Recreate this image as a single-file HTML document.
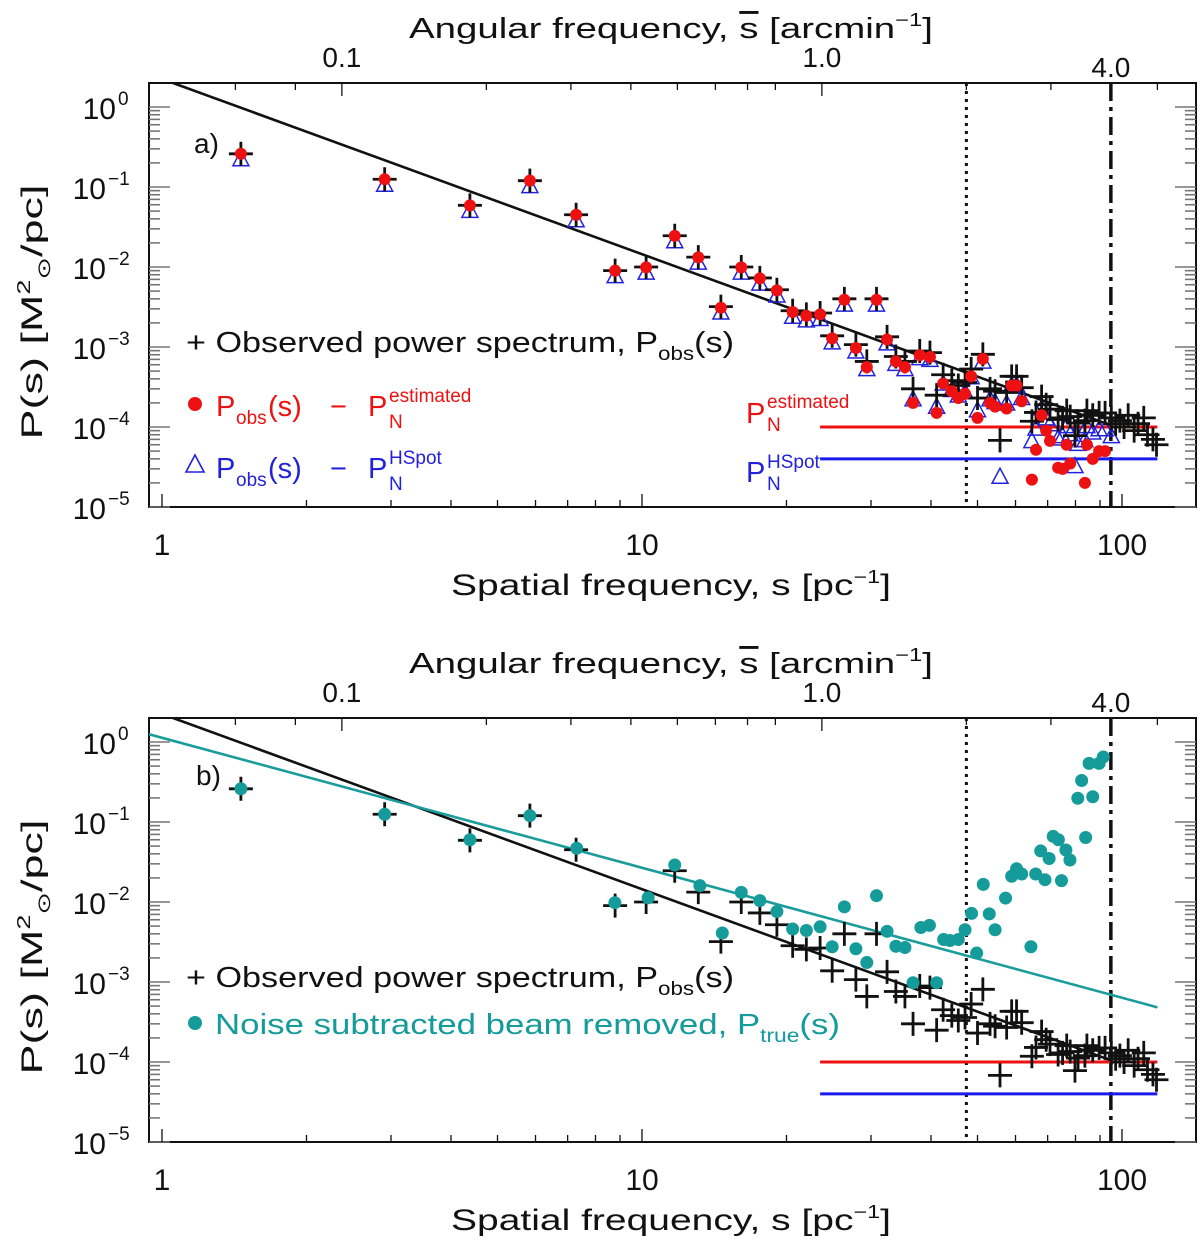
<!DOCTYPE html>
<html><head><meta charset="utf-8"><title>Power spectrum</title>
<style>
html,body{margin:0;padding:0;background:#fff;}
svg{display:block;font-family:"Liberation Sans",sans-serif;}
</style></head>
<body>
<svg id="chart" width="1200" height="1243" viewBox="0 0 1200 1243" xmlns="http://www.w3.org/2000/svg"></svg>
<script>
// ---------- data ----------
const obsS = [1.46,2.91,4.38,5.84,7.29,8.79,10.2,11.7,13.1,14.6,16.1,17.6,19.1,20.6,22.0,23.5,24.9,26.4,27.9,29.4,30.8,32.4,33.8,35.3,36.7,37.9,39.8,41.1,42.4,44.2,45.6,47.1,48.5,50.0,51.3,53.1,54.4,55.7,57.5,58.9,60.3,61.8,64.9,66.2,68.0,69.5,70.8,73.6,75.2,76.7,78.0,79.8,81.0,83.7,84.5,86.9,89.6,92.2,95,97,99,101,103,106,108,111,113,116,118];
const obsP = [0.26,0.125,0.059,0.12,0.045,0.009,0.01,0.0246,0.0133,0.0032,0.010,0.0073,0.0052,0.00284,0.00256,0.00266,0.00138,0.0040,0.00107,0.00066,0.0040,0.00134,0.00076,0.00066,0.00030,0.00089,0.00085,0.00025,0.00045,0.00038,0.00033,0.00036,0.00053,0.00023,0.00081,0.00030,0.00028,0.000068,0.00027,0.00043,0.00043,0.00031,0.000118,0.000152,0.00024,0.00019,0.000167,0.000124,0.00013,0.00016,0.000135,0.000078,0.000112,0.00012,0.00016,0.00014,0.00015,0.00015,0.00013,0.00011,0.00012,0.00010,0.00014,0.00009,0.00011,0.00013,0.00008,0.00007,0.00006];
const estP = [0.26,0.125,0.059,0.12,0.045,0.009,0.0099,0.0245,0.0132,0.0031,0.0099,0.0072,0.0051,0.00274,0.00246,0.00256,0.00128,0.0039,0.00097,0.00056,0.0039,0.00124,0.00066,0.00056,0.0002,0.00079,0.00075,0.00015,0.00035,0.00028,0.00023,0.00026,0.00043,0.00013,0.00071,0.0002,0.00018,null,0.00017,0.00033,0.00033,0.00021,0.000022,0.000052,0.00014,0.00009,0.000067,0.000031,0.00003,0.00006,0.000035,null,null,0.00002,0.00006,0.00004,0.00005,0.00005,null,null,null,null,null,null,null,null,null,null,null];
const hsP = [0.26,0.125,0.059,0.12,0.045,0.009,0.00996,0.0246,0.0133,0.00316,0.00996,0.00726,0.00516,0.0028,0.00252,0.00262,0.00134,0.00396,0.00103,0.00062,0.00396,0.0013,0.00072,0.00062,0.00026,0.00085,0.00081,0.00021,0.00041,0.00034,0.00029,0.00032,0.00049,0.00019,0.00077,0.00026,0.00024,0.000028,0.00023,0.00039,0.00039,0.00027,0.000078,0.000112,0.0002,0.00015,0.000127,0.000084,0.00009,0.00012,0.000095,0.000038,0.000072,0.00008,0.00012,0.0001,0.00011,0.00011,0.00009,null,null,null,null,null,null,null,null,null,null];
const trueS = [1.46,2.91,4.38,5.84,7.31,8.78,10.3,11.7,13.2,14.7,16.1,17.6,19.1,20.6,22.0,23.5,24.9,26.4,27.9,29.4,30.8,32.4,33.8,35.3,36.7,38.1,39.7,41.1,42.5,43.8,45.6,47.1,48.6,49.8,51.4,52.9,54.4,57.2,58.9,60.3,61.8,64.6,66.1,67.7,69.1,70.5,71.9,73.7,74.8,76.4,77.9,80.9,82.4,84,85.4,86.9,89.6,91.4];
const trueP = [0.26,0.125,0.06,0.12,0.047,0.0098,0.0113,0.029,0.016,0.0041,0.0132,0.0104,0.0076,0.0046,0.0044,0.0049,0.00276,0.0087,0.0026,0.00175,0.012,0.0043,0.0028,0.0027,0.00098,0.0048,0.0051,0.00098,0.0034,0.0033,0.0034,0.0045,0.0072,0.0023,0.0166,0.0071,0.0045,0.0112,0.021,0.026,0.0224,0.00276,0.0224,0.0435,0.019,0.035,0.066,0.060,0.0185,0.0447,0.0335,0.198,0.33,0.064,0.54,0.207,0.54,0.65];
const noiseEst = 1e-4;
const noiseHSpot = 4e-5;
const fitObs = [2.24, -2.19];    // amplitude at s=1, slope
const fitTrue = [1.13, -1.625];
const noiseRange = [23.5, 118.5];
const resolLines = [47.4, 94.8];   // dotted, dash-dot
const xTickVals = [1,10,100];
const yTickExp = [0,-1,-2,-3,-4,-5];
const topTickLabels = ["0.1","1.0","4.0"];
const topTickVals = [0.1,1.0,4.0];
const topMinor = [0.06,0.08,0.2,0.3,0.4,0.5,0.6,0.7,0.8,2,3,5];
const arcConv = 23.7;

// ---------- geometry ----------
const NS="http://www.w3.org/2000/svg";
const svg=document.getElementById('chart');
const L=149,R=1196;
function X(s){return 162+480*Math.log10(s);}
function mk(tag,attrs,parent){const e=document.createElementNS(NS,tag);for(const k in attrs)e.setAttribute(k,attrs[k]);(parent||svg).appendChild(e);return e;}

function panel(off,tag){
  const T=83+off,B=507+off,Y0=107+off;
  const Y=p=>Y0-80*Math.log10(p);
  const g=mk('g',{});
  
  
  const clipId='clip'+tag;
  const cp=mk('clipPath',{id:clipId},g);mk('rect',{x:L,y:T,width:R-L,height:B-T},cp);
  const fr=mk('rect',{x:L,y:T,width:R-L,height:B-T,fill:'none',stroke:'#111','stroke-width':2},g);
  
  
  for(let e=0;e>=-5;e--){
    for(let m=1;m<10;m++){
      const y=Y(m*Math.pow(10,e)); if(y<T||y>B)continue;
      const len=m===1?21:11;
      mk('line',{x1:L,x2:L+len,y1:y,y2:y,stroke:'#777','stroke-width':1.6},g);
      mk('line',{x1:R-len,x2:R,y1:y,y2:y,stroke:'#777','stroke-width':1.6},g);
    }
  }
  yTickExp.forEach(e=>{
    const y=Y(Math.pow(10,e));
    const t=mk('text',{x:e===0?116:106,y:y+12,'font-size':30,'text-anchor':'end',fill:'#111'},g);
    t.textContent='10';
    
    
    const sup=mk('text',{x:e===0?118:108,y:y-2,'font-size':19,fill:'#111'},g);
    sup.textContent=e===0?'0':'−'+(-e);
  });
  for(let d=0;d<3;d++)for(let m=1;m<10;m++){
    const s=m*Math.pow(10,d);const x=X(s);if(x<L||x>R)continue;
    mk('line',{x1:x,x2:x,y1:B,y2:B-(m===1?13:7),stroke:'#111','stroke-width':1.3},g);
  }
  xTickVals.forEach(v=>{
    const t=mk('text',{x:X(v),y:B+48,'font-size':30,'text-anchor':'middle',fill:'#111'},g);
    t.textContent=String(v);
    
    
  });
  topMinor.forEach(v=>{const x=X(v*arcConv);mk('line',{x1:x,x2:x,y1:T,y2:T+7,stroke:'#111','stroke-width':1.3},g);});
  topTickVals.forEach((v,i)=>{
    const x=X(v*arcConv);mk('line',{x1:x,x2:x,y1:T,y2:T+13,stroke:'#111','stroke-width':1.3},g);
    const t=mk('text',{x:x,y:T-(i===2?6:16),'font-size':28,'text-anchor':'middle',fill:'#111'},g);
    t.textContent=topTickLabels[i];
    
    
  });
  const tt=mk('text',{x:671,y:T-45,'font-size':29,'text-anchor':'middle',fill:'#111',textLength:524,lengthAdjust:'spacingAndGlyphs'},g);
  tt.innerHTML='Angular frequency, <tspan style="text-decoration:overline">s</tspan> [arcmin<tspan font-size="18" dy="-12">−1</tspan><tspan dy="12">]</tspan>';
  
  
  const xt=mk('text',{x:671,y:B+88,'font-size':30,'text-anchor':'middle',fill:'#111',textLength:440,lengthAdjust:'spacingAndGlyphs'},g);
  xt.innerHTML='Spatial frequency, s [pc<tspan font-size="18" dy="-12">−1</tspan><tspan dy="12">]</tspan>';
  
  
  const yc=off+312;
  const yt=mk('text',{x:0,y:0,'font-size':30,'text-anchor':'middle',fill:'#111',transform:`translate(42 ${yc}) rotate(-90)`,textLength:255,lengthAdjust:'spacingAndGlyphs'},g);
  yt.innerHTML='P(s)  [M<tspan font-size="18" dy="-12">2</tspan><tspan font-size="18" dy="20">⊙</tspan><tspan dy="-8">/pc]</tspan>';
  
  

  const pg=mk('g',{'clip-path':`url(#${clipId})`},g);
  const vd=mk('line',{x1:X(resolLines[0]),x2:X(resolLines[0]),y1:T,y2:B,stroke:'#111','stroke-width':3,'stroke-dasharray':'3 5'},pg);
  
  
  const vdd=mk('line',{x1:X(resolLines[1]),x2:X(resolLines[1]),y1:T,y2:B,stroke:'#111','stroke-width':3.5,'stroke-dasharray':'18 6 4 6'},pg);
  
  
  const nr=mk('line',{x1:X(noiseRange[0]),x2:X(noiseRange[1]),y1:Y(noiseEst),y2:Y(noiseEst),stroke:'#ee1111','stroke-width':3},pg);
  
  
  const nb=mk('line',{x1:X(noiseRange[0]),x2:X(noiseRange[1]),y1:Y(noiseHSpot),y2:Y(noiseHSpot),stroke:'#1a1aee','stroke-width':3},pg);
  
  
  const fitY=s=>Y(fitObs[0]*Math.pow(s,fitObs[1]));
  const fl=mk('line',{x1:X(0.9),y1:fitY(0.9),x2:X(resolLines[1]),y2:fitY(resolLines[1]),stroke:'#111','stroke-width':2.6},pg);
  
  
  return {g,pg,Y,T,B};
}

function cross(parent,x,y){
  const c=mk('path',{d:`M${x-12} ${y}H${x+12}M${x} ${y-12}V${y+12}`,stroke:'#111','stroke-width':2.8,fill:'none'},parent);
  
  
}
function txt(x,y,content,attrs,name){const t=mk('text',Object.assign({x:x,y:y,'font-size':29,fill:'#111'},attrs||{}));t.innerHTML=content;return t;}

// ---------- panel a ----------
const A=panel(0,'a');
obsS.forEach((s,i)=>{ if(hsP[i]!=null){const x=X(s),y=A.Y(hsP[i]);
  const t=mk('path',{d:`M${x} ${y-3}L${x+8} ${y+12}L${x-8} ${y+12}Z`,fill:'none',stroke:'#2222dd','stroke-width':1.5},A.pg);
  
  }});
obsS.forEach((s,i)=>cross(A.pg,X(s),A.Y(obsP[i])));
obsS.forEach((s,i)=>{ if(estP[i]!=null){
  const c=mk('circle',{cx:X(s),cy:A.Y(estP[i]),r:6,fill:'#ee1111'},A.pg);
  
  }});

txt(194,153,'a)',{'font-size':28},'panel-a-label');
txt(186,352,'+ Observed power spectrum, P<tspan font-size="19" dy="8">obs</tspan><tspan dy="-8">(s)</tspan>',{textLength:548,lengthAdjust:'spacingAndGlyphs'},'legend-observed');

const RED='#ee1111', BLUE='#2222dd';
mk('circle',{cx:195,cy:404,r:7,fill:RED});
txt(216,416,'P',{fill:RED},'legend-estimated');
txt(236,424,'obs',{fill:RED,'font-size':19},'legend-estimated-obs');
txt(268,416,'(s)',{fill:RED},'legend-estimated-s');
txt(330,416,'−',{fill:RED},'legend-estimated-minus');
txt(368,416,'P',{fill:RED},'legend-estimated-p');
txt(389,402,'estimated',{fill:RED,'font-size':19},'legend-estimated-sup');
txt(389,428,'N',{fill:RED,'font-size':19},'legend-estimated-sub');

mk('path',{d:'M195 455L204 472L186 472Z',fill:'none',stroke:BLUE,'stroke-width':1.6});
txt(216,478,'P',{fill:BLUE},'legend-hspot');
txt(236,486,'obs',{fill:BLUE,'font-size':19},'legend-hspot-obs');
txt(268,478,'(s)',{fill:BLUE},'legend-hspot-s');
txt(330,478,'−',{fill:BLUE},'legend-hspot-minus');
txt(368,478,'P',{fill:BLUE},'legend-hspot-p');
txt(389,464,'HSpot',{fill:BLUE,'font-size':19},'legend-hspot-sup');
txt(389,490,'N',{fill:BLUE,'font-size':19},'legend-hspot-sub');

txt(746,423,'P',{fill:RED},'noise-estimated-label');
txt(767,408,'estimated',{fill:RED,'font-size':19},'noise-estimated-sup');
txt(767,431,'N',{fill:RED,'font-size':19},'noise-estimated-sub');
txt(746,482,'P',{fill:BLUE},'noise-hspot-label');
txt(767,468,'HSpot',{fill:BLUE,'font-size':19},'noise-hspot-sup');
txt(767,490,'N',{fill:BLUE,'font-size':19},'noise-hspot-sub');

// ---------- panel b ----------
const Bp=panel(635,'b');
const ty=s=>Bp.Y(fitTrue[0]*Math.pow(s,fitTrue[1]));
const tl=mk('line',{x1:X(0.9),y1:ty(0.9),x2:X(noiseRange[1]),y2:ty(noiseRange[1]),stroke:'#1a9c9c','stroke-width':2.6},Bp.pg);


obsS.forEach((s,i)=>cross(Bp.pg,X(s),Bp.Y(obsP[i])));
trueS.forEach((s,i)=>{
  const c=mk('circle',{cx:X(s),cy:Bp.Y(trueP[i]),r:6.5,fill:'#169b9b'},Bp.pg);
  
  
});
txt(196,785,'b)',{'font-size':28},'panel-b-label');
txt(186,987,'+ Observed power spectrum, P<tspan font-size="19" dy="8">obs</tspan><tspan dy="-8">(s)</tspan>',{textLength:548,lengthAdjust:'spacingAndGlyphs'},'legend-observed-b');
mk('circle',{cx:195,cy:1023,r:7,fill:'#169b9b'});
txt(215,1034,'Noise subtracted beam removed, P<tspan font-size="19" dy="8">true</tspan><tspan dy="-8">(s)</tspan>',{fill:'#169b9b',textLength:625,lengthAdjust:'spacingAndGlyphs'},'legend-true');
</script>
</body></html>
